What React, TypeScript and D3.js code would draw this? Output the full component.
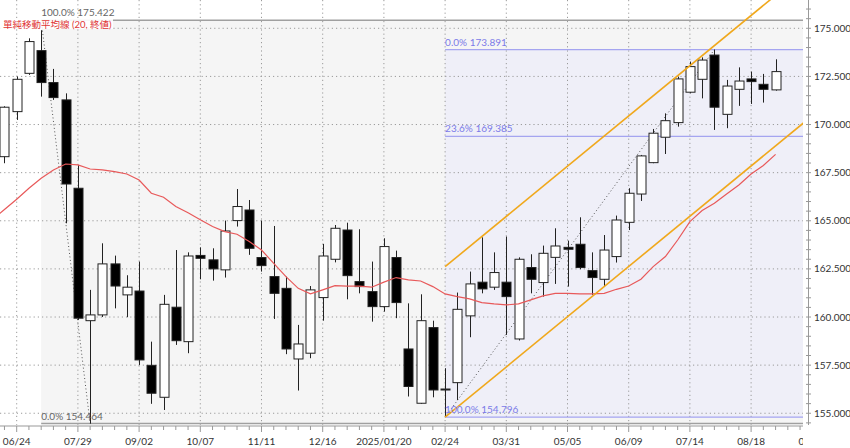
import React from "react";
import * as d3 from "d3";

// Weekly candles, first index -1 = week of 2024/06/17, index 0 = 2024/06/24
const firstIndex = -1;
const opens = [168.33,170.67,172.66,173.84,172.18,171.28,166.69,159.81,160.11,162.76,161.15,161.35,157.49,155.83,160.51,158.72,163.2,162.97,162.45,165.01,165.56,163.09,162.1,161.49,157.82,158.12,161.01,163.0,164.52,161.84,161.32,160.54,163.09,158.34,155.52,159.45,156.26,156.59,160.06,161.81,161.55,161.81,158.86,162.57,161.79,163.1,163.62,163.78,162.41,161.96,163.14,164.92,166.39,168.02,169.34,170.1,171.68,172.35,173.61,170.53,171.83,172.37,172.09,171.8];
const highs = [170.95,172.49,174.48,174.9,172.89,171.62,167.9,161.41,163.83,163.19,162.17,162.88,158.72,161.15,163.48,163.36,163.62,163.57,165.01,166.65,166.08,165.01,164.73,162.1,159.59,161.61,163.8,164.78,164.9,164.56,162.88,164.09,163.45,160.71,161.18,159.81,157.34,161.27,162.36,164.14,163.36,164.18,163.1,163.26,163.71,164.61,163.97,165.18,163.36,164.26,165.27,166.69,168.42,169.77,170.58,172.49,173.27,173.49,173.89,172.32,172.97,172.75,172.63,173.39];
const lows = [167.99,170.24,172.58,171.45,171.28,164.87,159.85,154.46,160.0,160.45,159.99,157.51,155.49,155.17,158.55,158.12,161.96,161.89,162.05,164.7,163.23,162.36,159.9,158.07,156.18,157.86,159.81,162.84,160.92,161.23,159.76,160.28,159.94,155.87,155.49,155.83,154.8,155.69,158.95,161.23,161.41,159.07,158.78,161.23,161.06,161.72,161.58,162.48,161.15,161.58,162.83,164.52,166.03,167.99,168.47,169.89,171.62,171.36,169.72,169.81,170.97,171.07,171.14,171.76];
const closes = [170.9,172.35,174.31,172.18,171.4,166.91,159.94,160.11,162.76,161.61,161.55,157.77,156.04,160.66,158.77,163.17,163.05,162.5,164.47,165.74,163.57,162.67,161.23,158.34,158.6,161.41,163.17,164.61,162.15,161.58,160.54,163.66,160.75,156.39,159.81,156.21,156.22,160.4,161.72,161.46,162.31,161.06,163.0,161.96,163.31,163.69,163.52,162.57,162.05,163.48,165.04,166.43,168.37,169.55,170.2,172.37,173.01,173.35,170.9,172.0,172.26,172.23,171.83,172.75];

// 20-week simple moving average (close), first index -2
const maFirstIndex = -2;
const ma20 = [165.05,165.59,166.12,166.69,167.21,167.64,167.95,167.9,167.69,167.64,167.55,167.43,167.12,166.43,166.22,165.74,165.42,165.05,164.7,164.44,164.3,163.92,163.48,162.79,162.1,161.49,161.2,161.41,161.63,161.61,161.61,161.55,161.81,162.05,161.93,161.87,161.58,161.2,161.06,160.94,160.75,160.68,160.63,160.68,160.89,161.1,161.23,161.23,161.2,161.2,161.23,161.44,161.61,161.96,162.62,163.14,164.0,164.96,165.53,165.91,166.39,166.86,167.43,167.87,168.45];

// x-axis labels every 5 weeks from index 0
const tickLabels = ["06/24","07/29","09/02","10/07","11/11","12/16","2025/01/20","02/24","03/31","05/05","06/09","07/14","08/18","09/22"];
const yTicks = [155, 157.5, 160, 162.5, 165, 167.5, 170, 172.5, 175];

// Fibonacci retracements
const fibGrayAnchors = [2, 6];
const fibGrayValues = [175.422, 154.464];
const fibGrayLevels = [1.0, 0.0];
const fibBlueAnchors = [35, 57];
const fibBlueValues = [154.796, 173.891];
const fibBlueLevels = [1.0, 0.236, 0.0];

// channel (orange): start index, start value, slope per week, width
const channelStart = [35, 154.796];
const channelSlope = 0.522;
const channelWidth = 7.82;

const legendText = "單純移動平均線 (20, 終値)";

const W = 850, H = 448;
const plotR = 803, plotB = 425;
const FONT = "Lato, 'Noto Sans CJK JP', sans-serif";

export default function App() {
  const x = d3.scaleLinear().domain([-1.364, 64.24]).range([0, plotR]);
  const y = d3.scaleLinear().domain([154.39, 176.47]).range([plotB, 0]);
  const n = opens.length;
  const idx = d3.range(n).map((i) => i + firstIndex);
  const bw = 9;

  const maLine = d3.line<number>().x((_, i) => x(i + maFirstIndex)).y((d) => y(d));

  const gx0 = x(fibGrayAnchors[0]);
  const bx0 = x(fibBlueAnchors[0]);
  const grayHi = fibGrayValues[0], grayLo = fibGrayValues[1];
  const blueLo = fibBlueValues[0], blueHi = fibBlueValues[1];
  const fmt = d3.format(".3f");
  const pct = (p: number) => d3.format(".1f")(p * 100) + "%";

  const xMinor = d3.range(-1, 65);
  const yMinor = d3.range(154.5, 176.01, 0.5);

  const chEndIdx = 66;
  const chY0 = channelStart[1];
  const chY1 = chY0 + (chEndIdx - channelStart[0]) * channelSlope;

  return (
    <svg width={W} height={H} style={{ position: "absolute", left: 0, top: 0, background: "#fff" }} fontFamily={FONT}>
      <defs>
        <clipPath id="plot"><rect x={0} y={0} width={plotR} height={plotB} /></clipPath>
        <clipPath id="xlab"><rect x={0} y={plotB} width={plotR} height={H - plotB} /></clipPath>
      </defs>
      <g clipPath="url(#plot)">
        {/* shadings */}
        <rect x={gx0} y={y(grayHi)} width={plotR - gx0} height={y(grayLo) - y(grayHi)} fill="#f5f5f5" />
        <rect x={bx0} y={y(blueHi)} width={plotR - bx0} height={y(blueLo) - y(blueHi)} fill="#efeff8" />
        {/* grid */}
        {yTicks.map((t) => (
          <line key={"h" + t} x1={0} x2={plotR} y1={y(t)} y2={y(t)} stroke="#9a9a9a" strokeDasharray="1.2,3" />
        ))}
        {tickLabels.map((_, k) => (
          <line key={"v" + k} x1={x(k * 5)} x2={x(k * 5)} y1={0} y2={plotB} stroke="#9a9a9a" strokeDasharray="1.2,3" />
        ))}
        {/* fib gray lines */}
        {fibGrayLevels.map((p) => {
          const v = grayLo + p * (grayHi - grayLo);
          return <line key={"g" + p} x1={gx0} x2={plotR} y1={y(v)} y2={y(v)} stroke="#a0a0a0" strokeWidth={1.5} />;
        })}
        {/* fib blue lines */}
        {fibBlueLevels.map((p) => {
          const v = blueHi - (1 - p) * 0 - p * (blueHi - blueLo);
          return <line key={"b" + p} x1={bx0} x2={plotR} y1={y(v)} y2={y(v)} stroke="#a5a5f0" strokeWidth={1.3} />;
        })}
        {/* fib diagonals */}
        <line x1={x(fibGrayAnchors[0])} y1={y(grayHi)} x2={x(fibGrayAnchors[1])} y2={y(grayLo)} stroke="#555" strokeDasharray="1,2.5" />
        <line x1={x(fibBlueAnchors[0])} y1={y(blueLo)} x2={x(fibBlueAnchors[1])} y2={y(blueHi)} stroke="#555" strokeDasharray="1,2.5" />
        {/* candles */}
        {idx.map((ix, i) => {
          const o = opens[i], c = closes[i], h = highs[i], l = lows[i];
          const cx = Math.round(x(ix)) + 0.5;
          const up = c >= o;
          const top = y(Math.max(o, c)), bot = y(Math.min(o, c));
          return (
            <g key={"c" + ix}>
              <line x1={cx} x2={cx} y1={y(h)} y2={y(l)} stroke="#222" strokeWidth={1} />
              <rect x={cx - bw / 2} y={top} width={bw} height={Math.max(1, bot - top)} fill={up ? "#fff" : "#000"} stroke="#222" strokeWidth={1} />
            </g>
          );
        })}
        {/* MA */}
        <path d={maLine(ma20) || ""} fill="none" stroke="#e8595a" strokeWidth={1.2} />
        {/* channel */}
        <line x1={x(channelStart[0])} y1={y(chY0)} x2={x(chEndIdx)} y2={y(chY1)} stroke="#f0a81c" strokeWidth={1.6} />
        <line x1={x(channelStart[0])} y1={y(chY0 + channelWidth)} x2={x(chEndIdx)} y2={y(chY1 + channelWidth)} stroke="#f0a81c" strokeWidth={1.6} />
        {/* fib labels */}
        {fibGrayLevels.map((p) => {
          const v = grayLo + p * (grayHi - grayLo);
          return <text key={"gl" + p} x={gx0} y={y(v) - 4} fontSize={10} fill="#666">{pct(p) + " " + fmt(v)}</text>;
        })}
        {fibBlueLevels.map((p) => {
          const v = blueHi - p * (blueHi - blueLo);
          return <text key={"bl" + p} x={bx0} y={y(v) - 4} fontSize={10} fill="#7b7be8">{pct(p) + " " + fmt(v)}</text>;
        })}
        {/* legend */}
        <rect x={0} y={18} width={113} height={11} fill="#fff" fillOpacity={0.9} />
        <text x={3} y={27.5} fontSize={9.5} fill="#e03535">{legendText}</text>
      </g>
      {/* bottom axis */}
      <line x1={0} x2={plotR} y1={plotB + 1} y2={plotB + 1} stroke="#999" />
      {xMinor.map((k) => (
        <line key={"xt" + k} x1={x(k)} x2={x(k)} y1={plotB + 1} y2={plotB + (k % 5 === 0 ? 7 : 5)} stroke="#999" />
      ))}
      <g clipPath="url(#xlab)">
        {tickLabels.map((t, k) => (
          <text key={"xl" + k} x={x(k * 5)} y={445} textAnchor="middle" fontSize={10} fill="#333">{t}</text>
        ))}
      </g>
      {/* right axis */}
      <line x1={808.5} x2={808.5} y1={0} y2={plotB} stroke="#999" />
      {yMinor.map((v) => (
        <line key={"ym" + v} x1={806} x2={811} y1={y(v)} y2={y(v)} stroke="#999" />
      ))}
      {yTicks.map((t) => (
        <text key={"yl" + t} x={814} y={y(t) + 3.5} fontSize={10} fill="#333">{fmt(t)}</text>
      ))}
    </svg>
  );
}
